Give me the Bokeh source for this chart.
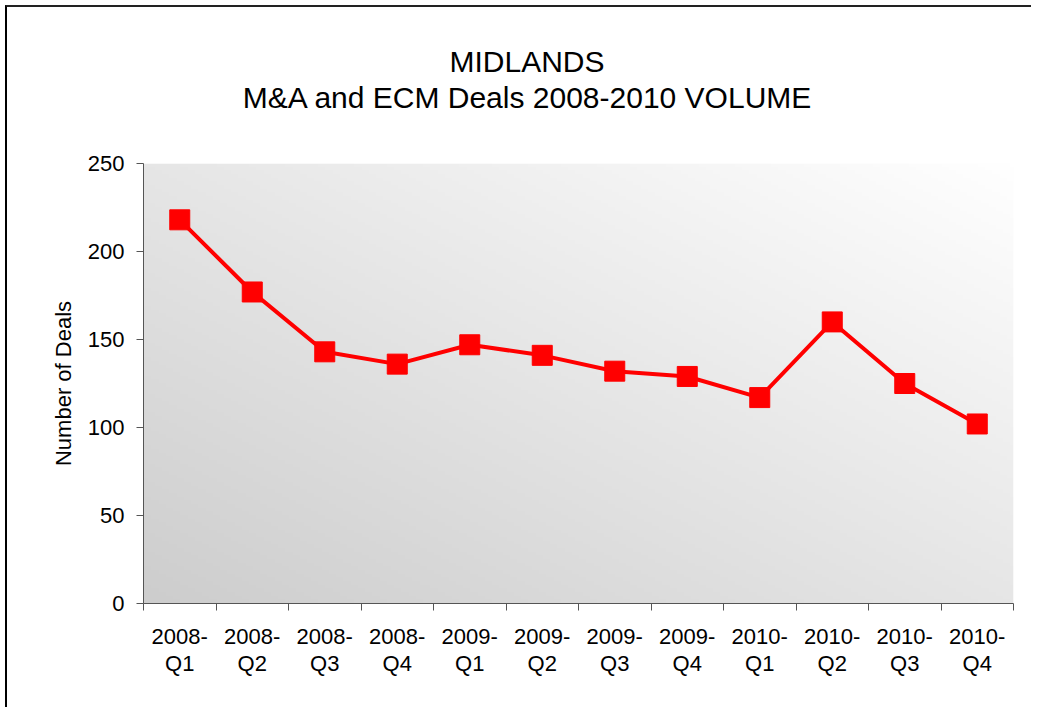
import numpy as np
from bokeh.plotting import figure
from bokeh.models import FixedTicker, ColumnDataSource, Div
from bokeh.layouts import column
from bokeh.embed import file_html
from bokeh.resources import INLINE

categories = ["2008-Q1", "2008-Q2", "2008-Q3", "2008-Q4",
              "2009-Q1", "2009-Q2", "2009-Q3", "2009-Q4",
              "2010-Q1", "2010-Q2", "2010-Q3", "2010-Q4"]
deals = [218, 177, 143, 136, 147, 141, 132, 129, 117, 160, 125, 102]
y_ticks = [0, 50, 100, 150, 200, 250]
title_lines = ["MIDLANDS", "M&amp;A and ECM Deals 2008-2010 VOLUME"]

FONT = "Liberation Sans"
n = len(categories)
xpos = [i + 0.5 for i in range(n)]

title_div = Div(
    text=('<div style="box-sizing:border-box; width:1024px; padding-top:37px; padding-left:16px; '
          'text-align:center; font-family:\'Liberation Sans\'; font-size:30px; '
          'line-height:36px; color:black;">'
          + "<br>".join(title_lines) + "</div>"),
    width=1024, height=126, margin=0)

p = figure(width=1024, height=574, output_backend="svg", toolbar_location=None,
           x_range=(0, n), y_range=(0, 250),
           min_border_left=136, min_border_right=18, min_border_bottom=104, min_border_top=30)

p.title.visible = False

# gradient background (style only)
H, W = 120, 240
yy, xx = np.mgrid[0:H, 0:W]
t = (xx / (W - 1) + yy / (H - 1)) / 2.0
g = (205 + 50 * t).clip(0, 255).astype(np.uint32)
img = (255 << 24) | (g << 16) | (g << 8) | g
p.image_rgba(image=[img.astype(np.uint32)], x=0, y=0, dw=n, dh=250)

p.background_fill_color = "white"
p.border_fill_color = "white"
p.outline_line_color = None
p.grid.visible = False

src = ColumnDataSource(dict(x=xpos, y=deals, cat=categories))
p.line("x", "y", source=src, line_color="#ff0000", line_width=4)
p.scatter("x", "y", source=src, marker="square", size=20, fill_color="#ff0000", line_color="#ff0000")

# x axis
xa = p.xaxis[0]
xa.ticker = FixedTicker(ticks=xpos, minor_ticks=list(range(n + 1)))
xa.major_label_overrides = {x: c.replace("-", "-\n") for x, c in zip(xpos, categories)}
xa.major_tick_line_color = None
xa.minor_tick_line_color = "#555555"
xa.minor_tick_out = 7
xa.minor_tick_in = 0
xa.axis_line_color = "#555555"
xa.major_label_text_font = FONT
xa.major_label_text_font_size = "22px"
xa.major_label_text_color = "black"
xa.major_label_text_line_height = 1.1
xa.major_label_standoff = 13

# y axis
ya = p.yaxis[0]
ya.ticker = FixedTicker(ticks=y_ticks, minor_ticks=[])
ya.axis_line_color = "#555555"
ya.major_tick_line_color = "#555555"
ya.major_tick_out = 7
ya.major_tick_in = 0
ya.minor_tick_line_color = None
ya.major_label_text_font = FONT
ya.major_label_text_font_size = "22px"
ya.major_label_text_color = "black"
ya.major_label_standoff = 12
ya.axis_label = "Number of Deals"
ya.axis_label_text_font = FONT
ya.axis_label_text_font_size = "22px"
ya.axis_label_text_font_style = "normal"
ya.axis_label_text_color = "black"
ya.axis_label_standoff = 9

layout = column(title_div, p, spacing=0)
layout.styles = {"margin-left": "5px", "margin-top": "5px",
                 "border-left": "2px solid black", "border-top": "2px solid #222222",
                 "background-color": "white"}

open("out.html", "w").write(file_html(layout, INLINE))
